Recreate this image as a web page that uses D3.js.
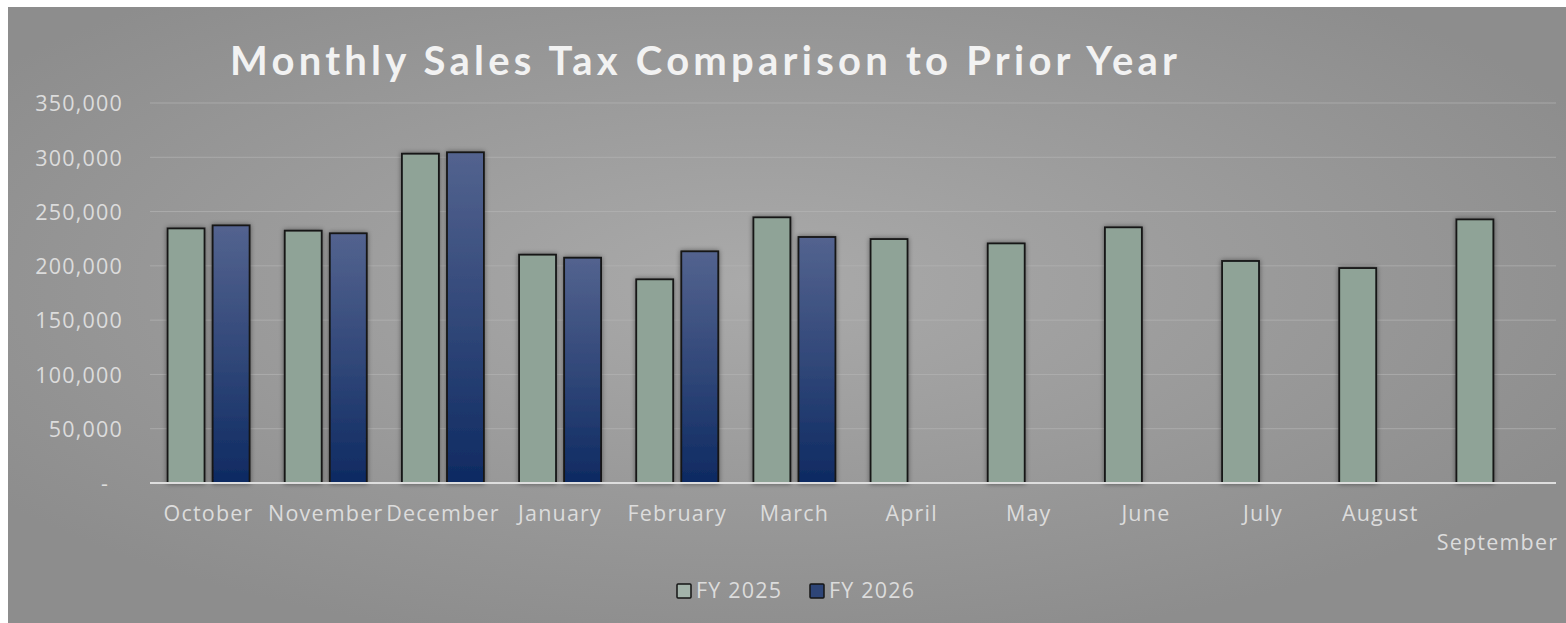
<html lang="en">

<head>
    <meta charset="UTF-8">
    <title>Monthly Sales Tax Comparison to Prior Year</title>
    <script src="https://d3js.org/d3.v7.js"></script>
    <style>
        body { margin: 0; background: #fff; }
        text { font-family: "Open Sans", Lato, sans-serif; }
        .lbl { font-size: 21.5px; letter-spacing: 1.2px; fill: #dcdcdc; }
    </style>
</head>

<body>
    <div id="chart"></div>

    <script>
        // chart data
        const months = ["October", "November", "December", "January", "February", "March",
            "April", "May", "June", "July", "August", "September"];
        const seriesNames = ["FY 2025", "FY 2026"];
        const fy2025 = [234500, 232400, 303300, 210300, 187600, 244700,
            224700, 220700, 235500, 204500, 198000, 242800];
        const fy2026 = [237300, 230000, 304600, 207500, 213400, 226600];
        const yTicks = [0, 50000, 100000, 150000, 200000, 250000, 300000, 350000];

        const width = 1566, height = 623;

        const svg = d3.select("#chart").append("svg")
            .attr("width", width)
            .attr("height", height);

        const defs = svg.append("defs");

        // background gradient
        const bg = defs.append("radialGradient").attr("id", "bg")
            .attr("cx", "48%").attr("cy", "45%").attr("r", "60%");
        bg.append("stop").attr("offset", "0%").attr("stop-color", "#aaaaaa");
        bg.append("stop").attr("offset", "100%").attr("stop-color", "#8d8d8d");

        // blue bar gradient
        const blue = defs.append("linearGradient").attr("id", "blue")
            .attr("x1", 0).attr("y1", 0).attr("x2", 0).attr("y2", 1);
        blue.append("stop").attr("offset", "0%").attr("stop-color", "#53638f");
        blue.append("stop").attr("offset", "55%").attr("stop-color", "#2e4577");
        blue.append("stop").attr("offset", "100%").attr("stop-color", "#0e2a62");

        const shadow = defs.append("filter").attr("id", "shadow")
            .attr("x", "-30%").attr("y", "-10%").attr("width", "160%").attr("height", "120%");
        shadow.append("feDropShadow").attr("dx", 0).attr("dy", 0)
            .attr("stdDeviation", 2.5).attr("flood-color", "#000").attr("flood-opacity", 0.45);

        svg.append("rect")
            .attr("x", 8).attr("y", 7)
            .attr("width", width - 8).attr("height", height - 7)
            .attr("fill", "url(#bg)");

        // scales
        const x0 = d3.scaleBand()
            .domain(months)
            .range([150, 1556])
            .paddingInner(0.3)
            .paddingOuter(0.15);

        const x1 = d3.scaleBand()
            .domain(seriesNames)
            .range([0, x0.bandwidth()])
            .paddingInner(0.18);

        const y = d3.scaleLinear()
            .domain([0, 350000])
            .range([483, 103]);

        // gridlines
        svg.append("g")
            .selectAll("line")
            .data(yTicks.slice(1))
            .join("line")
            .attr("x1", 150).attr("x2", 1556)
            .attr("y1", d => y(d)).attr("y2", d => y(d))
            .attr("stroke", "#b4b4b4")
            .attr("stroke-opacity", 0.7)
            .attr("stroke-width", 1);

        // y axis labels
        const yAxis = svg.append("g")
            .attr("transform", "translate(123,0)")
            .call(d3.axisLeft(y).tickValues(yTicks).tickSize(0).tickPadding(0)
                .tickFormat(d => d === 0 ? "-" : d3.format(",")(d)));
        yAxis.select(".domain").remove();
        yAxis.attr("font-size", null).attr("font-family", null);
        yAxis.selectAll("text")
            .attr("class", "lbl")
            .attr("fill", null)
            .attr("dy", "0.36em")
            .attr("dx", d => d === 0 ? -14 : 0);

        // bars
        const rows = months.map((m, i) => ({
            month: m,
            values: [
                { series: seriesNames[0], value: fy2025[i] },
                { series: seriesNames[1], value: fy2026[i] }
            ].filter(v => v.value != null)
        }));

        const groups = svg.append("g")
            .selectAll("g")
            .data(rows)
            .join("g")
            .attr("transform", d => `translate(${x0(d.month)},0)`);

        groups.selectAll("rect")
            .data(d => d.values)
            .join("rect")
            .attr("x", d => x1(d.series))
            .attr("y", d => y(d.value))
            .attr("width", x1.bandwidth())
            .attr("height", d => y(0) - y(d.value))
            .attr("fill", d => d.series === seriesNames[0] ? "#8fa397" : "url(#blue)")
            .attr("stroke", "#151515")
            .attr("stroke-width", 1.8)
            .attr("filter", "url(#shadow)");

        // baseline
        svg.append("line")
            .attr("x1", 150).attr("x2", 1556)
            .attr("y1", y(0)).attr("y2", y(0))
            .attr("stroke", "#dedede")
            .attr("stroke-width", 2);

        // x axis labels (last one drops to a second row)
        svg.append("g")
            .selectAll("text")
            .data(months)
            .join("text")
            .attr("class", "lbl")
            .attr("x", d => x0(d) + x0.bandwidth() / 2)
            .attr("y", (d, i) => i === months.length - 1 ? 550 : 521)
            .attr("text-anchor", "middle")
            .text(d => d);

        // title
        svg.append("text")
            .attr("x", 230)
            .attr("y", 75)
            .attr("textLength", 947)
            .attr("lengthAdjust", "spacing")
            .attr("fill", "#f2f2f2")
            .style("font-family", "Lato, sans-serif")
            .style("font-size", "40px")
            .style("font-weight", "bold")
            .text("Monthly Sales Tax Comparison to Prior Year");

        // legend
        const legendX = [677, 810];
        const legend = svg.append("g")
            .selectAll("g")
            .data(seriesNames)
            .join("g")
            .attr("transform", (d, i) => `translate(${legendX[i]},584)`);

        legend.append("rect")
            .attr("width", 14).attr("height", 14)
            .attr("fill", (d, i) => i === 0 ? "#a3b3aa" : "#2e4577")
            .attr("stroke", "#151515")
            .attr("stroke-width", 1.5)
            .attr("rx", 1);

        legend.append("text")
            .attr("class", "lbl")
            .attr("x", 19)
            .attr("y", 14)
            .text(d => d);
    </script>
</body>

</html>
